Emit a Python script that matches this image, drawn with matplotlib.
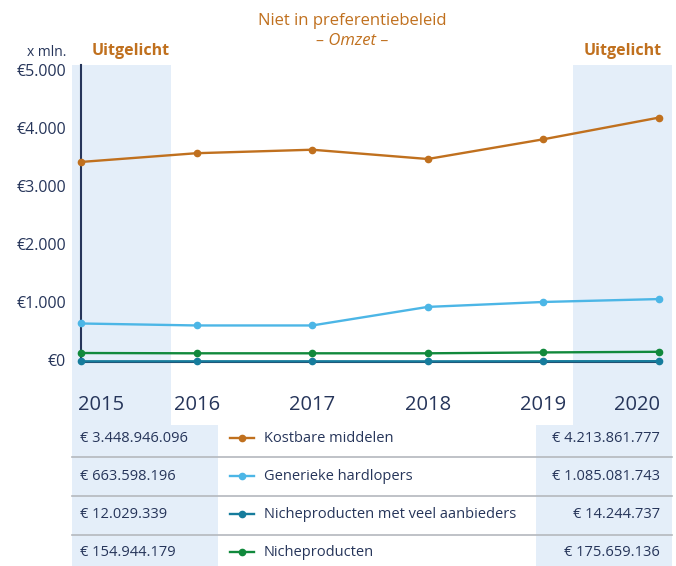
import matplotlib
matplotlib.use('Agg')
import matplotlib.pyplot as plt
from matplotlib.patches import Polygon
from matplotlib.transforms import Affine2D, blended_transform_factory
from matplotlib.lines import Line2D

plt.rcParams['font.family'] = ['Open Sans', 'DejaVu Sans']

# data (x mln. euro)
years = [2015, 2016, 2017, 2018, 2019, 2020]
series_names = ['Kostbare middelen', 'Generieke hardlopers',
                'Nicheproducten met veel aanbieders', 'Nicheproducten']
kostbare = [3449, 3600, 3660, 3500, 3840, 4214]
generiek = [664, 630, 630, 950, 1035, 1085]
niche_veel = [12, 12, 12, 11, 13, 14]
niche = [155, 150, 150, 150, 165, 176]
first_year_labels = ['€ 3.448.946.096', '€ 663.598.196', '€ 12.029.339', '€ 154.944.179']
last_year_labels = ['€ 4.213.861.777', '€ 1.085.081.743', '€ 14.244.737', '€ 175.659.136']
yticks = [0, 1000, 2000, 3000, 4000, 5000]
ytick_labels = ['€0', '€1.000', '€2.000', '€3.000', '€4.000', '€5.000']

colors = ['#c0701e', '#4cb6e6', '#167c9c', '#11893c']
navy = '#26355a'
orange = '#c0701e'
shade = '#e4eef9'

W, H = 676, 566
fig = plt.figure(figsize=(W / 100, H / 100), dpi=100)
# pixel coords measured from the top-left of the picture
T = Affine2D().scale(1 / W, -1 / H).translate(0, 1) + fig.transFigure

# axes: x 2015 at px 81, 2020 at px 659; y 0 at px 362, 5000 at px 72
ax = fig.add_axes([72 / W, 0, 600 / W, (H - 65) / H])
ppy = (659 - 81) / 5
ppv = (362 - 72) / 5000
ytop = 5000 + (72 - 65) / ppv
ax.set_xlim(2015 - 9 / ppy, 2020 + 13 / ppy)
ax.set_ylim(-(H - 362) / ppv, ytop)
ax.patch.set_alpha(0)
for s in ax.spines.values():
    s.set_visible(False)
ax.set_xticks([])
ax.set_yticks([])

# highlighted columns
ax.add_patch(Polygon([(72, 65), (171, 65), (171, 425), (218, 425), (218, 566), (72, 566)],
                     closed=True, facecolor=shade, edgecolor='none', transform=T,
                     zorder=0, clip_on=False))
ax.add_patch(Polygon([(573, 65), (672, 65), (672, 566), (536, 566), (536, 425), (573, 425)],
                     closed=True, facecolor=shade, edgecolor='none', transform=T,
                     zorder=0, clip_on=False))

# axis lines
ax.plot([2015, 2015], [0, ytop], color=navy, lw=1.5, zorder=2, clip_on=False)
ax.plot([2015, 2020], [0, 0], color=navy, lw=1.5, zorder=2)

all_series = [kostbare, generiek, niche_veel, niche]
for vals, c in zip(all_series, colors):
    ax.plot(years, vals, color=c, lw=1.7, marker='o', ms=4.5, zorder=3, clip_on=False)

# y tick labels
for v, lab in zip(yticks, ytick_labels):
    ax.text(2015 - 15 / ppy, v, lab, ha='right', va='center', fontsize=11.5, color=navy)

# year labels
bt = blended_transform_factory(ax.transData, T)
for i, y in enumerate(years):
    ha = 'center'
    xx = y
    if i == 0:
        ha, xx = 'left', y - 3 / ppy
    elif i == len(years) - 1:
        ha, xx = 'right', y + 1 / ppy
    ax.text(xx, 405, str(y), ha=ha, va='center', fontsize=14.5, color=navy, transform=bt)

# titles
fig.text(352, 21, 'Niet in preferentiebeleid', ha='center', va='center', fontsize=12,
         color=orange, transform=T)
fig.text(352, 41, '– Omzet –', ha='center', va='center', fontsize=12, style='italic',
         color=orange, transform=T)
fig.text(66, 52, 'x mln.', ha='right', va='center', fontsize=10, color=navy, transform=T)
fig.text(131, 51, 'Uitgelicht', ha='center', va='center', fontsize=11.5, fontweight='bold',
         color=orange, transform=T)
fig.text(623, 51, 'Uitgelicht', ha='center', va='center', fontsize=11.5, fontweight='bold',
         color=orange, transform=T)

# table below the chart
row_y = [438, 476, 514, 552]
for sy in [457, 496, 535]:
    fig.add_artist(Line2D([72, 672], [sy, sy], color='#b4b8be', lw=1.2, transform=T))
for i, name in enumerate(series_names):
    ry = row_y[i]
    fig.text(80, ry, first_year_labels[i], ha='left', va='center', fontsize=10.5,
             color=navy, transform=T)
    fig.add_artist(Line2D([230, 254], [ry, ry], color=colors[i], lw=1.7, transform=T))
    fig.add_artist(Line2D([242], [ry], color=colors[i], marker='o', ms=4.5, transform=T))
    fig.text(264, ry, name, ha='left', va='center', fontsize=10.5, color=navy, transform=T)
    fig.text(660, ry, last_year_labels[i], ha='right', va='center', fontsize=10.5,
             color=navy, transform=T)

fig.savefig('out.png', dpi=100)
